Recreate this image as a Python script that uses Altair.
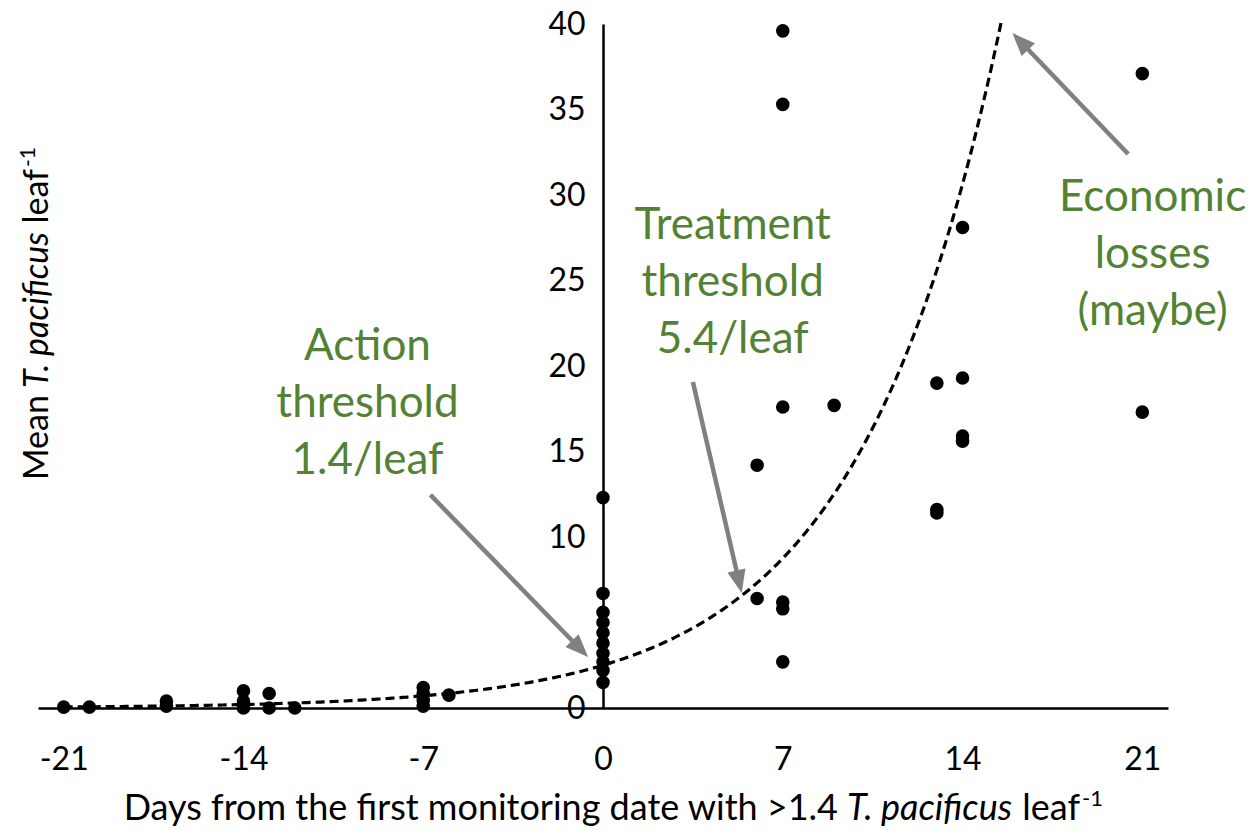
import altair as alt
import pandas as pd

# ---- data ----
day = [-21, -20, -17, -17, -14, -14, -14, -14, -13, -13, -12,
       -7, -7, -7, -7, -6,
       0, 0, 0, 0, 0, 0, 0, 0, 0, 0,
       6, 6,
       7, 7, 7, 7, 7, 7,
       9,
       13, 13, 13,
       14, 14, 14, 14,
       21, 21]
mean_per_leaf = [0.05, 0.05, 0.4, 0.1, 1.0, 0.4, 0.15, 0.0, 0.85, 0.0, 0.0,
                 1.2, 0.85, 0.45, 0.1, 0.75,
                 12.3, 6.7, 5.6, 5.0, 4.4, 3.8, 3.2, 2.7, 2.2, 1.5,
                 6.4, 14.2,
                 39.6, 35.3, 17.6, 6.2, 5.8, 2.7,
                 17.7,
                 19.0, 11.6, 11.4,
                 28.1, 19.3, 15.9, 15.6,
                 37.1, 17.3]

# exponential trendline y = a * exp(b * x), coefficients
trend_a = 2.5
trend_b = 0.179
trend_start = -21
trend_stop = 15.56

x_ticks = [-21, -14, -7, 0, 7, 14, 21]
y_ticks = [0, 10, 15, 20, 25, 30, 35, 40]

ann_action = ["Action", "threshold", "1.4/leaf"]
ann_treat = ["Treatment", "threshold", "5.4/leaf"]
ann_econ = ["Economic", "losses", "(maybe)"]

# arrows: tail and tip in data units
arrow_tail_x = [-6.72, 3.50, 20.45]
arrow_tail_y = [12.46, 19.06, 32.40]
arrow_tip_x = [-0.58, 5.40, 15.94]
arrow_tip_y = [2.98, 6.73, 39.47]

# ---- layout ----
W, H = 1130, 684
LEFT, TOP = 38, 24
FONT = "Lato"
GREEN = "#548235"
GREY = "#808080"

xs = alt.Scale(domain=[-22, 22], nice=False, zero=False)
ys = alt.Scale(domain=[0, 40], nice=False, zero=False)

pts_df = pd.DataFrame({"day": day, "mean": mean_per_leaf})

points = alt.Chart(pts_df).mark_circle(size=185, color="black", opacity=1).encode(
    x=alt.X("day:Q", scale=xs,
            axis=alt.Axis(values=x_ticks, title=None, grid=False, ticks=False, tickSize=0,
                          domainColor="black", domainWidth=2.5, labelFontSize=32,
                          labelFont=FONT, labelColor="black", labelPadding=36,
                          labelExpr="'' + datum.value")),
    y=alt.Y("mean:Q", scale=ys,
            axis=alt.Axis(values=y_ticks, title=None, grid=False, ticks=False, tickSize=0,
                          offset=-565, domainColor="black", domainWidth=2.5,
                          labelFontSize=32, labelFont=FONT, labelColor="black",
                          labelPadding=18)),
)

trend = alt.Chart(alt.sequence(trend_start, trend_stop, 0.1, as_="day")).transform_calculate(
    mean=f"{trend_a} * exp({trend_b} * datum.day)"
).mark_line(color="black", strokeDash=[9, 5], strokeWidth=3.2).encode(
    x=alt.X("day:Q", scale=xs), y=alt.Y("mean:Q", scale=ys)
)

layers = [trend, points]

# arrows
head_path = "M0,0L0.8,2L-0.8,2Z"
head_angles = [135.7, 166.9, 316.2]
for i in range(3):
    tx, ty = arrow_tail_x[i], arrow_tail_y[i]
    hx, hy = arrow_tip_x[i], arrow_tip_y[i]
    f = 0.93
    ex, ey = tx + f * (hx - tx), ty + f * (hy - ty)
    shaft = alt.Chart(alt.Data(values=[{}])).mark_rule(color=GREY, strokeWidth=4.5).encode(
        x=alt.datum(tx, type="quantitative", scale=xs), y=alt.datum(ty, type="quantitative", scale=ys),
        x2=alt.datum(ex), y2=alt.datum(ey),
    )
    head = alt.Chart(alt.Data(values=[{}])).mark_point(
        shape=head_path, filled=True, size=530, color=GREY, opacity=1, strokeWidth=0,
        angle=head_angles[i]
    ).encode(x=alt.datum(hx, type="quantitative", scale=xs), y=alt.datum(hy, type="quantitative", scale=ys))
    layers += [shaft, head]

# green annotations (anchor of the first line, data units)
ann_pos = [(-9.17, 21.1, ann_action), (5.05, 28.2, ann_treat), (21.4, 29.8, ann_econ)]
for ax_, ay_, txt in ann_pos:
    layers.append(
        alt.Chart(alt.Data(values=[{}])).mark_text(
            text=txt, font=FONT, fontSize=44, color=GREEN, lineHeight=57,
            align="center", baseline="middle"
        ).encode(x=alt.datum(ax_, type="quantitative", scale=xs),
                 y=alt.datum(ay_, type="quantitative", scale=ys))
    )


def ptext(text, x, y, size=34, style="normal", align="left", baseline="alphabetic", angle=0):
    return alt.Chart(alt.Data(values=[{}])).mark_text(
        text=text, font=FONT, fontSize=size, fontStyle=style, color="black",
        align=align, baseline=baseline, angle=angle
    ).encode(x=alt.value(x - LEFT), y=alt.value(y - TOP))


# x-axis title pieces (absolute pixel anchors)
XB = 820
layers += [
    ptext("Days from the first monitoring date with >1.4", 838, XB, size=36, align="right"),
    ptext("T. pacificus", 847, XB, size=36, style="italic"),
    ptext("leaf", 1080, XB, size=36, align="right"),
    ptext("-1", 1082, XB - 14, size=22),
]

# y-axis title pieces (rotated, reading upward)
YB = 48
layers += [
    ptext("Mean", YB, 480, angle=270),
    ptext("T. pacificus", YB, 388, style="italic", angle=270),
    ptext("leaf", YB, 169, angle=270, align="right"),
    ptext("-1", YB - 13, 167, size=21, angle=270),
]

chart = alt.layer(*layers).properties(
    width=W, height=H,
    padding={"left": LEFT, "top": TOP, "right": 1253 - LEFT - W, "bottom": 831 - TOP - H},
    autosize="none",
).configure(background="white").configure_view(strokeWidth=0, stroke=None)

chart.save("out.html", embed_options={"renderer": "svg", "actions": False})
